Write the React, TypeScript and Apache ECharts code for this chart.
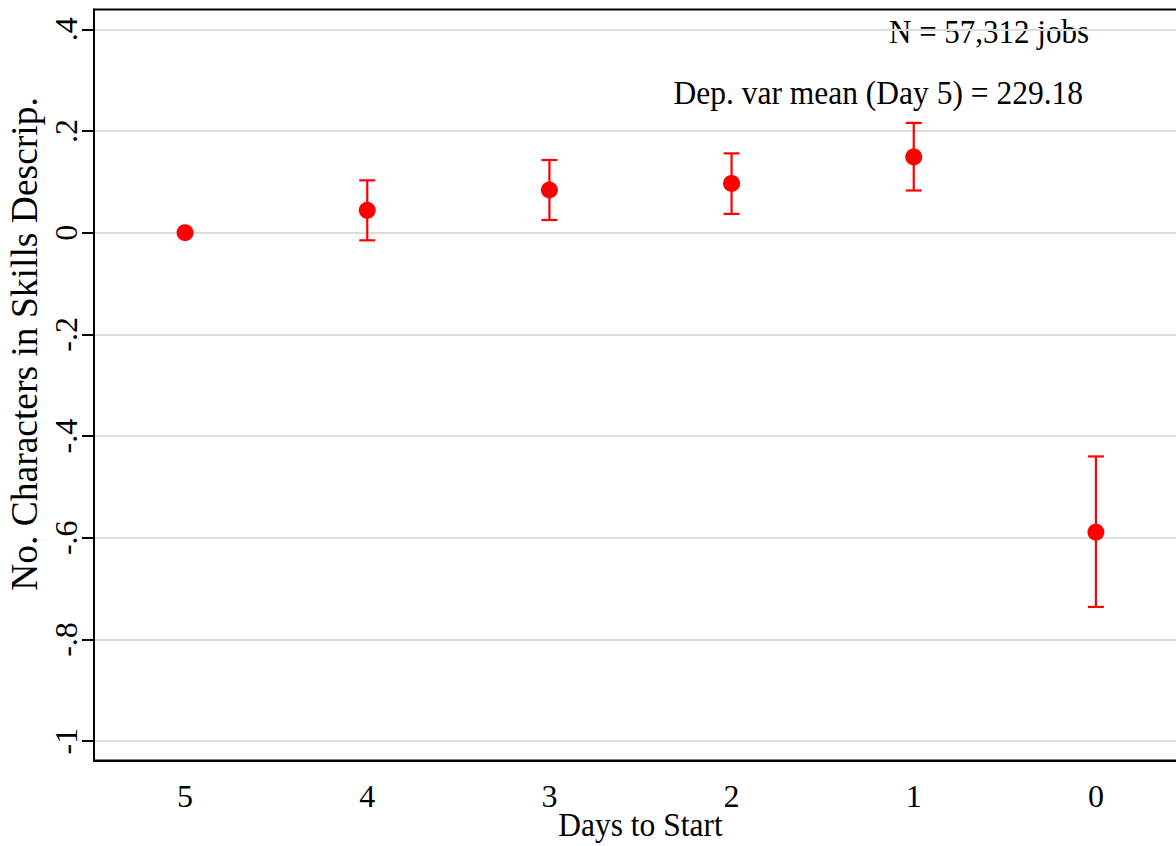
import React, { useEffect, useRef } from "react";
import * as echarts from "echarts";

const categories = ["5", "4", "3", "2", "1", "0"];
const estimates = [0, 0.044, 0.084, 0.097, 0.149, -0.589];
const ciLow = [0, -0.015, 0.025, 0.037, 0.083, -0.736];
const ciHigh = [0, 0.103, 0.143, 0.156, 0.216, -0.44];
const yTicks = [-1, -0.8, -0.6, -0.4, -0.2, 0, 0.2, 0.4];
const notes = ["N = 57,312 jobs", "Dep. var mean (Day 5) = 229.18"];
const xTitle = "Days to Start";
const yTitle = "No. Characters in Skills Descrip.";

const FONT = "'Liberation Serif', 'Times New Roman', serif";

function fmtTick(v: number): string {
  const r = Math.round(v * 10) / 10;
  if (r === 0) return "0";
  return String(r).replace("0.", ".");
}

export default function App() {
  const ref = useRef<HTMLDivElement>(null);
  useEffect(() => {
    document.body.style.margin = "0";
    if (!ref.current) return;
    const chart = echarts.init(ref.current, null, { renderer: "svg" });
    const red = "#ff0000";
    const option: any = {
      animation: false,
      backgroundColor: "#ffffff",
      grid: {
        show: true,
        borderColor: "#000",
        borderWidth: 2,
        left: 94,
        top: 9.5,
        width: 1093,
        height: 751,
        containLabel: false,
        outerBoundsMode: "none",
      },
      xAxis: {
        type: "category",
        data: categories,
        boundaryGap: true,
        z: 3,
        axisLine: { onZero: false, lineStyle: { color: "#000", width: 2 } },
        axisTick: { alignWithLabel: true, length: 13, lineStyle: { color: "#000", width: 2 } },
        axisLabel: { fontSize: 32, fontFamily: FONT, color: "#000", margin: 19 },
        splitLine: { show: false },
      },
      yAxis: {
        type: "value",
        min: -1.038,
        max: 0.439,
        z: 3,
        axisLine: { show: true, onZero: false, lineStyle: { color: "#000", width: 2 } },
        axisTick: { show: true, length: 12, customValues: yTicks, lineStyle: { color: "#000", width: 2 } },
        axisLabel: {
          customValues: yTicks,
          rotate: 90,
          fontSize: 32,
          fontFamily: FONT,
          color: "#000",
          margin: 12.5,
          formatter: (v: number) => fmtTick(v),
        },
        splitLine: { show: false },
      },
      graphic: [
        {
          type: "text",
          x: 1089,
          y: 32,
          scaleY: 1.07,
          style: { text: notes[0], fontSize: 31, fontFamily: FONT, fill: "#000", align: "right", verticalAlign: "middle" },
        },
        {
          type: "text",
          x: 1083,
          y: 93,
          scaleY: 1.07,
          style: { text: notes[1], fontSize: 31.5, fontFamily: FONT, fill: "#000", align: "right", verticalAlign: "middle" },
        },
        {
          type: "text",
          x: 640.5,
          y: 825,
          scaleY: 1.07,
          style: { text: xTitle, fontSize: 31.5, fontFamily: FONT, fill: "#000", align: "center", verticalAlign: "middle" },
        },
        {
          type: "text",
          x: 24,
          y: 344,
          rotation: Math.PI / 2,
          style: { text: yTitle, fontSize: 37.5, fontFamily: FONT, fill: "#000", align: "center", verticalAlign: "middle" },
        },
      ],
      series: [
        {
          type: "custom",
          z: 2,
          data: categories.map((c, i) => [i, ciLow[i], ciHigh[i]]),
          encode: { x: 0, y: [1, 2] },
          renderItem: (params: any, api: any) => {
            const x = api.value(0);
            const lo = api.value(1);
            const hi = api.value(2);
            if (hi === lo) return null;
            const p1 = api.coord([x, hi]);
            const p2 = api.coord([x, lo]);
            const w = 8;
            const style = { stroke: red, lineWidth: 2.2, fill: "none" };
            return {
              type: "group",
              children: [
                { type: "line", shape: { x1: p1[0], y1: p1[1], x2: p2[0], y2: p2[1] }, style },
                { type: "line", shape: { x1: p1[0] - w, y1: p1[1], x2: p1[0] + w, y2: p1[1] }, style },
                { type: "line", shape: { x1: p2[0] - w, y1: p2[1], x2: p2[0] + w, y2: p2[1] }, style },
              ],
            };
          },
          markLine: {
            z: 1,
            silent: true,
            symbol: "none",
            label: { show: false },
            lineStyle: { color: "#dcdcdc", width: 2, type: "solid" },
            data: yTicks.map((v) => ({ yAxis: v })),
          },
        },
        {
          type: "scatter",
          z: 4,
          symbol: "circle",
          symbolSize: 17,
          itemStyle: { color: red, opacity: 1 },
          data: categories.map((c, i) => [i, estimates[i]]),
        },
      ],
    };
    chart.setOption(option);
    return () => chart.dispose();
  }, []);
  return <div ref={ref} style={{ width: 1176, height: 846 }} />;
}
